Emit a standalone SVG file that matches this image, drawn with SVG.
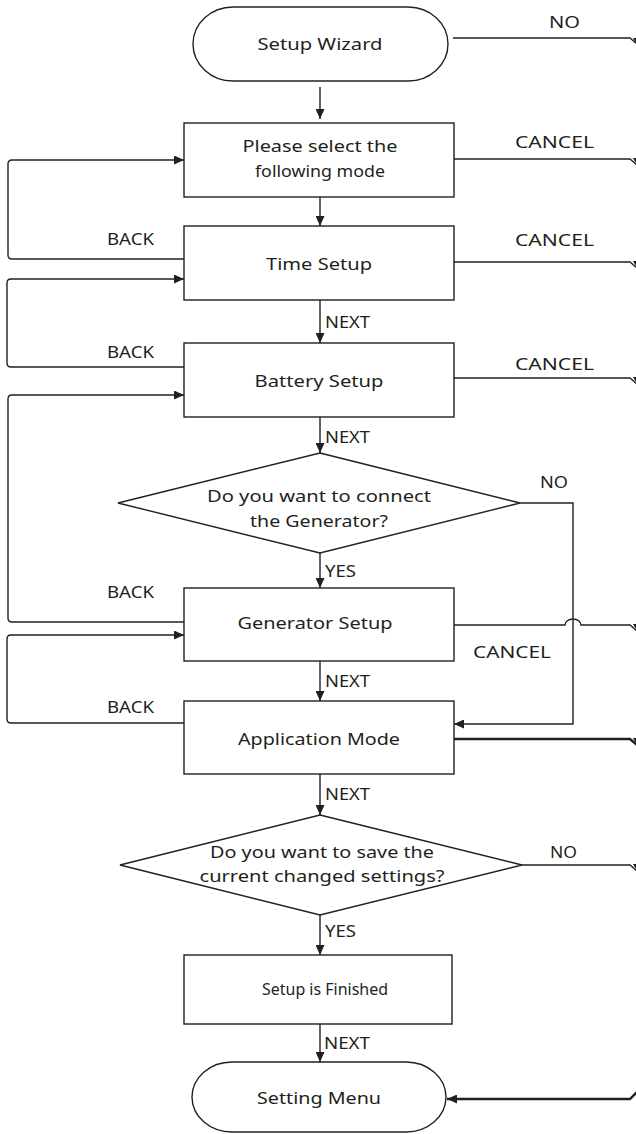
<svg xmlns="http://www.w3.org/2000/svg" width="636" height="1134" viewBox="0 0 636 1134">
<style>
.shape{fill:#fff;stroke:#231f20;stroke-width:1.4}
.ln{fill:none;stroke:#231f20;stroke-width:1.4}
.thick{fill:none;stroke:#231f20;stroke-width:2.4}
.t{font-family:"Noto Sans","Open Sans","DejaVu Sans",sans-serif;font-size:17px;fill:#231f20;text-anchor:middle}
.lb{font-family:"Noto Sans","Open Sans","DejaVu Sans",sans-serif;font-size:15.5px;fill:#231f20}
.ah{fill:#231f20}
</style>
<defs>
<marker id="arr" markerUnits="userSpaceOnUse" markerWidth="10" markerHeight="9" refX="10" refY="4.5" orient="auto">
<path d="M0,0 L10,4.5 L0,9 z" fill="#231f20"/>
</marker>
</defs>

<g id="node-setup-wizard">
<path class="shape" d="M233 7 H408 A40 37 0 0 1 408 81 H233 A40 37 0 0 1 233 7 Z"/>
<text class="t" x="320" y="50" textLength="125" lengthAdjust="spacingAndGlyphs">Setup Wizard</text>
</g>
<g id="node-select-mode">
<rect class="shape" x="184" y="123" width="270" height="74"/>
<text class="t" x="320" y="152" textLength="155" lengthAdjust="spacingAndGlyphs">Please select the</text>
<text class="t" x="320" y="177" textLength="130" lengthAdjust="spacingAndGlyphs">following mode</text>
</g>
<g id="node-time-setup">
<rect class="shape" x="184" y="226" width="270" height="74"/>
<text class="t" x="319" y="270" textLength="106" lengthAdjust="spacingAndGlyphs">Time Setup</text>
</g>
<g id="node-battery-setup">
<rect class="shape" x="184" y="343" width="270" height="74"/>
<text class="t" x="319" y="387" textLength="129" lengthAdjust="spacingAndGlyphs">Battery Setup</text>
</g>
<g id="node-connect-generator">
<polygon class="shape" points="320,453 520,503 320,553 118,503"/>
<text class="t" x="319" y="502" textLength="224" lengthAdjust="spacingAndGlyphs">Do you want to  connect</text>
<text class="t" x="319" y="527" textLength="138" lengthAdjust="spacingAndGlyphs">the Generator?</text>
</g>
<g id="node-generator-setup">
<rect class="shape" x="184" y="588" width="270" height="73"/>
<text class="t" x="315" y="629" textLength="155" lengthAdjust="spacingAndGlyphs">Generator Setup</text>
</g>
<g id="node-application-mode">
<rect class="shape" x="184" y="701" width="270" height="73"/>
<text class="t" x="319" y="745" textLength="162" lengthAdjust="spacingAndGlyphs">Application Mode</text>
</g>
<g id="node-save-settings">
<polygon class="shape" points="320,815 522,865 320,915 120,865"/>
<text class="t" x="322" y="858" textLength="224" lengthAdjust="spacingAndGlyphs">Do you want to save the</text>
<text class="t" x="322" y="882" textLength="245" lengthAdjust="spacingAndGlyphs">current changed settings?</text>
</g>
<g id="node-setup-finished">
<rect class="shape" x="184" y="955" width="268" height="69"/>
<text class="t" x="325" y="995" textLength="126" lengthAdjust="spacingAndGlyphs">Setup is Finished</text>
</g>
<g id="node-setting-menu">
<path class="shape" d="M232 1062 H406 A40 35 0 0 1 406 1132 H232 A40 35 0 0 1 232 1062 Z"/>
<text class="t" x="319" y="1104" textLength="124" lengthAdjust="spacingAndGlyphs">Setting Menu</text>
</g>

<g id="connectors">
<line class="ln" x1="320" y1="87" x2="320" y2="119" marker-end="url(#arr)"/>
<line class="ln" x1="320" y1="197" x2="320" y2="226" marker-end="url(#arr)"/>
<line class="ln" x1="320" y1="300" x2="320" y2="343" marker-end="url(#arr)"/>
<line class="ln" x1="320" y1="417" x2="320" y2="453" marker-end="url(#arr)"/>
<line class="ln" x1="320" y1="553" x2="320" y2="588" marker-end="url(#arr)"/>
<line class="ln" x1="320" y1="661" x2="320" y2="701" marker-end="url(#arr)"/>
<line class="ln" x1="320" y1="774" x2="320" y2="815" marker-end="url(#arr)"/>
<line class="ln" x1="320" y1="915" x2="320" y2="955" marker-end="url(#arr)"/>
<line class="ln" x1="320" y1="1024" x2="320" y2="1062" marker-end="url(#arr)"/>

<path class="ln" d="M184 259 H12 Q8 259 8 255 V164 Q8 160 12 160 H184" marker-end="url(#arr)"/>
<path class="ln" d="M184 367 H11 Q7 367 7 363 V283 Q7 279 11 279 H184" marker-end="url(#arr)"/>
<path class="ln" d="M184 622 H12 Q8 622 8 618 V399 Q8 395 12 395 H184" marker-end="url(#arr)"/>
<path class="ln" d="M184 723 H11 Q7 723 7 719 V639 Q7 635 11 635 H184" marker-end="url(#arr)"/>

<path class="ln" d="M520 503 H573 V724 H454" marker-end="url(#arr)"/>

<path class="ln" d="M453 38 H630 L637 44"/>
<path class="ln" d="M454 159 H630 L637 165"/>
<path class="ln" d="M454 262 H630 L637 268"/>
<path class="ln" d="M454 378 H630 L637 384"/>
<path class="ln" d="M454 625 H565 A8 6 0 0 1 581 625 H630 L637 631"/>
<path class="thick" d="M454 739 H630 L637 745"/>
<path class="ln" d="M522 865 H630 L637 871"/>
<path class="thick" d="M637 1092 L630 1099 H447" marker-end="url(#arr)"/>
<polygon class="ah" points="633,38 641,38 637,45"/>
<polygon class="ah" points="633,158 641,158 637,165"/>
<polygon class="ah" points="633,261 641,261 637,268"/>
<polygon class="ah" points="633,377 641,377 637,384"/>
<polygon class="ah" points="633,624 641,624 637,631"/>
<polygon class="ah" points="633,738 641,738 637,745"/>
<polygon class="ah" points="633,864 641,864 637,871"/>
</g>

<g id="labels">
<text class="lb" x="549" y="28" textLength="31" lengthAdjust="spacingAndGlyphs">NO</text>
<text class="lb" x="515" y="148" textLength="79" lengthAdjust="spacingAndGlyphs">CANCEL</text>
<text class="lb" x="515" y="246" textLength="79" lengthAdjust="spacingAndGlyphs">CANCEL</text>
<text class="lb" x="515" y="370" textLength="79" lengthAdjust="spacingAndGlyphs">CANCEL</text>
<text class="lb" x="473" y="658" textLength="78" lengthAdjust="spacingAndGlyphs">CANCEL</text>
<text class="lb" x="107" y="245" textLength="47" lengthAdjust="spacingAndGlyphs">BACK</text>
<text class="lb" x="107" y="358" textLength="47" lengthAdjust="spacingAndGlyphs">BACK</text>
<text class="lb" x="107" y="598" textLength="47" lengthAdjust="spacingAndGlyphs">BACK</text>
<text class="lb" x="107" y="713" textLength="47" lengthAdjust="spacingAndGlyphs">BACK</text>
<text class="lb" x="325" y="328" textLength="45" lengthAdjust="spacingAndGlyphs">NEXT</text>
<text class="lb" x="325" y="443" textLength="45" lengthAdjust="spacingAndGlyphs">NEXT</text>
<text class="lb" x="325" y="687" textLength="45" lengthAdjust="spacingAndGlyphs">NEXT</text>
<text class="lb" x="325" y="800" textLength="45" lengthAdjust="spacingAndGlyphs">NEXT</text>
<text class="lb" x="324" y="1049" textLength="46" lengthAdjust="spacingAndGlyphs">NEXT</text>
<text class="lb" x="325" y="577" textLength="31" lengthAdjust="spacingAndGlyphs">YES</text>
<text class="lb" x="325" y="937" textLength="31" lengthAdjust="spacingAndGlyphs">YES</text>
<text class="lb" x="540" y="488" textLength="28" lengthAdjust="spacingAndGlyphs">NO</text>
<text class="lb" x="550" y="858" textLength="27" lengthAdjust="spacingAndGlyphs">NO</text>
</g>
</svg>
